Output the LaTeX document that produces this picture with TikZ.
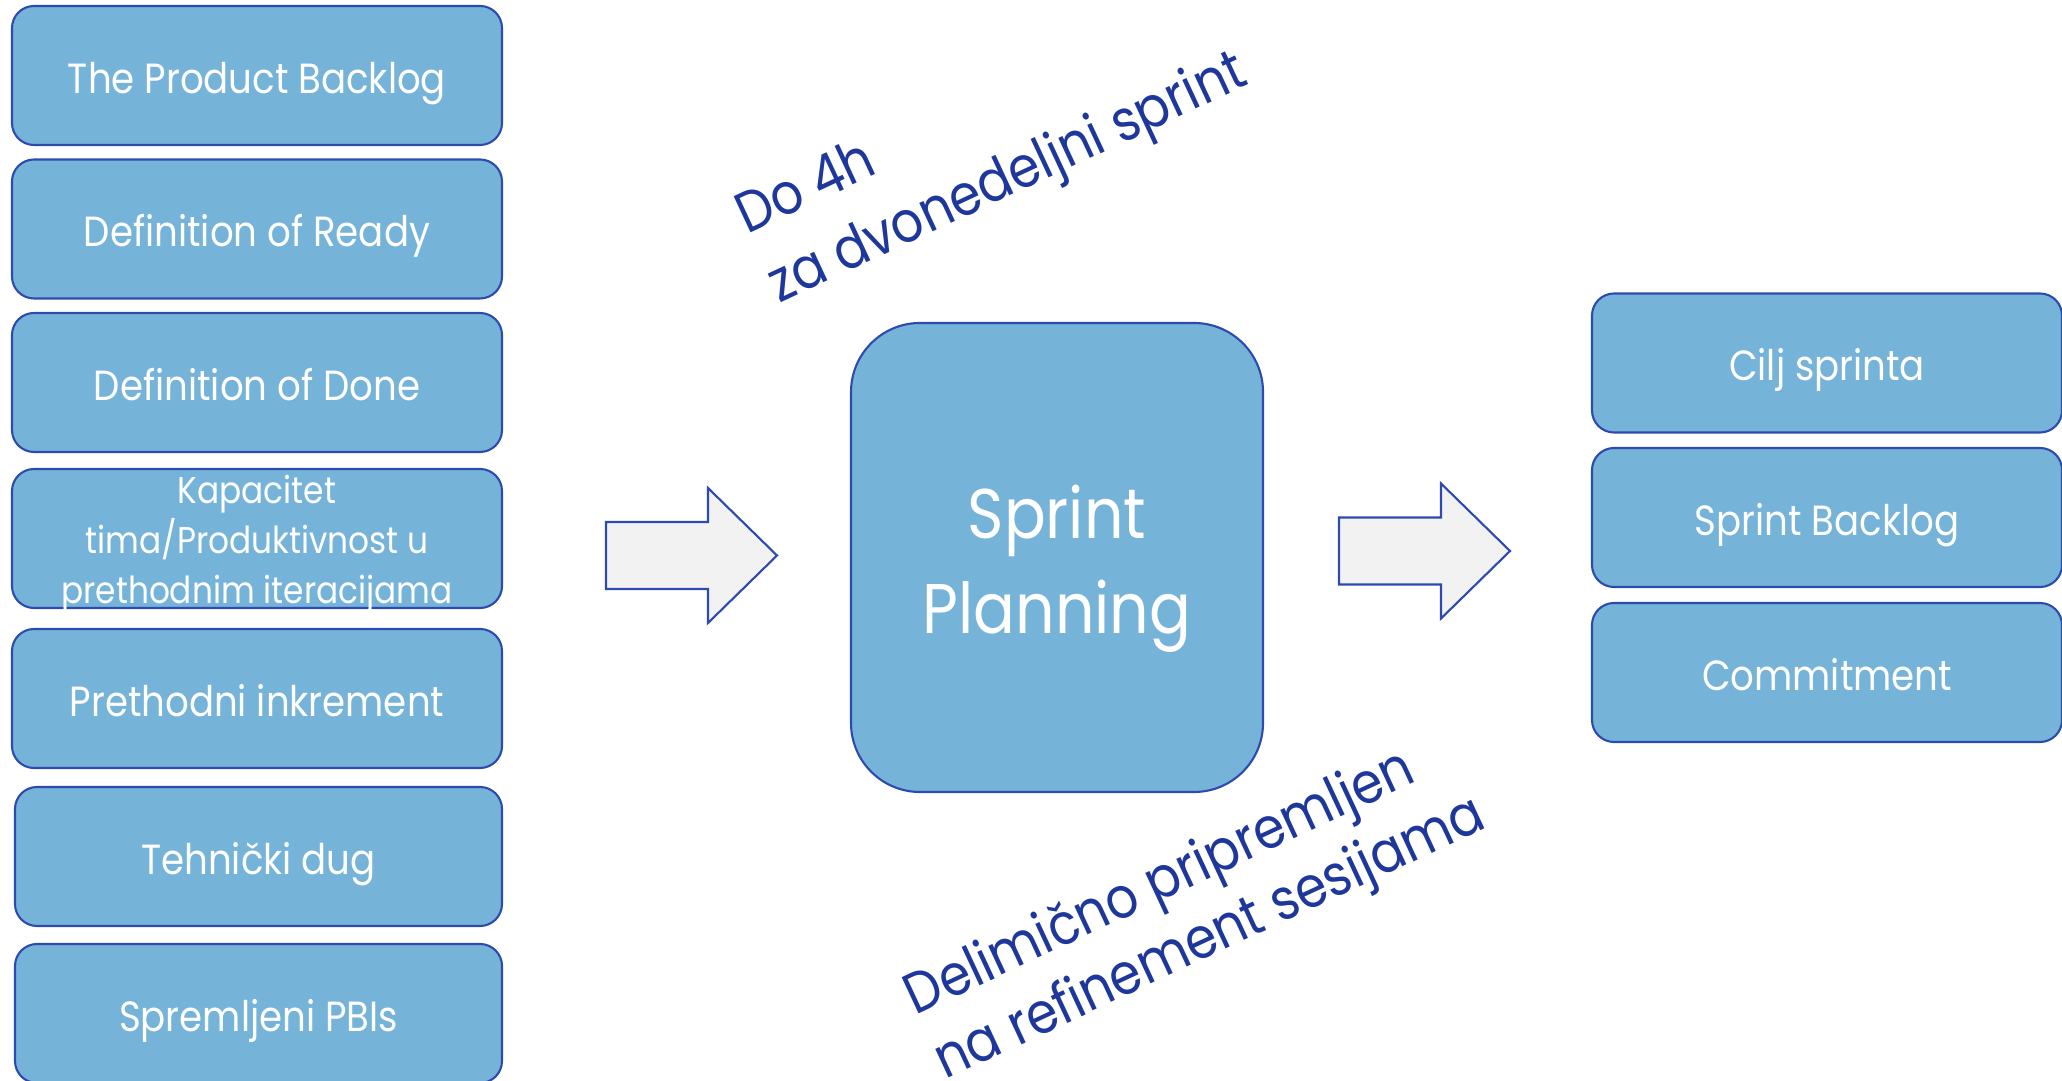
\documentclass[tikz,border=0pt]{standalone}
\usepackage{fontspec}
\setmainfont{Poppins}[FakeStretch=0.88]
\usetikzlibrary{positioning}
\definecolor{boxfill}{RGB}{117,179,217}
\definecolor{boxline}{RGB}{45,75,175}
\definecolor{notecol}{RGB}{30,55,155}
\definecolor{arrowfill}{RGB}{242,242,242}
\newcommand{\blockarrow}[1]{\draw[blockarrow] (#1) ++(0,0.335) -- ++(1.02,0) -- ++(0,0.34) -- ++(0.69,-0.675) -- ++(-0.69,-0.675) -- ++(0,0.34) -- ++(-1.02,0) -- cycle;}

\begin{document}
\begin{tikzpicture}[
  item/.style={draw=boxline, fill=boxfill, text=white, line width=0.6pt, rounded corners=0.22cm,
    minimum width=4.9cm, minimum height=1.39cm, inner sep=0, align=center,
    font=\fontsize{12}{14}\selectfont, text height=13.1pt, text depth=3pt},
  note/.style={text=notecol, anchor=west, align=left, inner sep=0},
  blockarrow/.style={draw=boxline, fill=arrowfill, line width=0.6pt}]
\clip (0,0) rectangle (20.62,-10.81);
% inputs
\node[item] (backlog) at (2.57,-0.755) {The Product Backlog};
\node[item] (ready) at (2.57,-2.29) {Definition of Ready};
\node[item] (done) at (2.57,-3.825) {Definition of Done};
\node[item, font=\fontsize{10.6}{14.2}\selectfont, text height=38pt, text depth=1pt] (capacity) at (2.57,-5.385) {Kapacitet\\tima/Produktivnost u\\prethodnim iteracijama};
\node[item] (increment) at (2.57,-6.985) {Prethodni inkrement};
\node[item, minimum width=4.87cm] (debt) at (2.585,-8.565) {Tehnički dug};
\node[item, minimum width=4.87cm] (pbis) at (2.585,-10.135) {Spremljeni PBIs};
% event
\node[item, minimum width=4.12cm, minimum height=4.69cm, rounded corners=0.69cm,
  font=\fontsize{20}{27}\selectfont, text height=48.4pt, text depth=5pt] (planning) at (10.57,-5.575) {Sprint\\Planning};
% outputs
\node[item, minimum width=4.7cm] (goal) at (18.27,-3.63) {Cilj sprinta};
\node[item, minimum width=4.7cm] (sbacklog) at (18.27,-5.175) {Sprint Backlog};
\node[item, minimum width=4.7cm] (commit) at (18.27,-6.725) {Commitment};
% arrows
\blockarrow{6.06,-5.555}
\blockarrow{13.39,-5.51}
% notes
\node[note, rotate=25, font=\fontsize{16.3}{21.6}\selectfont] (duration) at (7.57,-2.57) {Do 4h\\za dvonedeljni sprint};
\node[note, rotate=25, font=\fontsize{16.3}{20.2}\selectfont] (refine) at (9.24,-10.35) {Delimično pripremljen\\na refinement sesijama};
\end{tikzpicture}
\end{document}
